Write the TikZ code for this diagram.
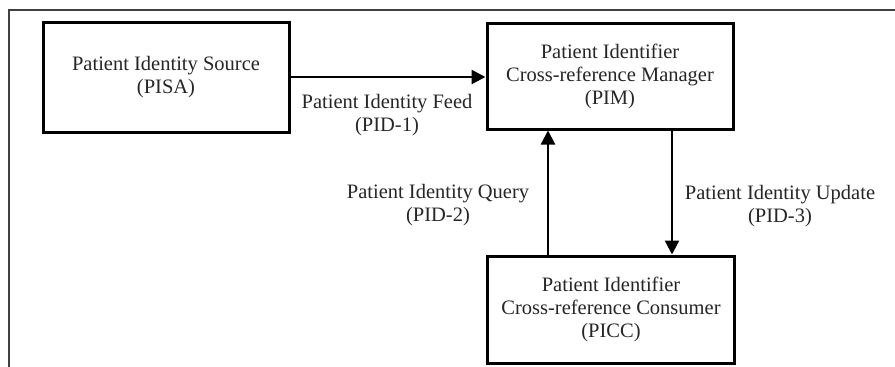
\documentclass[tikz,border=0pt]{standalone}
\usepackage{fontspec}
\setmainfont{Liberation Serif}
\usetikzlibrary{arrows.meta}
\begin{document}
\begin{tikzpicture}[x=1pt,y=-1pt,
  actor/.style={draw=black,line width=3pt,inner sep=0pt},
  lbl/.style={align=center,font=\fontsize{20.5}{23}\selectfont,text=black!85},
  flow/.style={line width=2.4pt,-{Triangle[length=14pt,width=14pt]}}]
  \useasboundingbox (0,0) rectangle (895,367);
  % outer frame
  \draw[line width=1.3pt,black!75] (9,367) -- (9,10) -- (895,10);
  % actors
  \node[actor,minimum width=246pt,minimum height=110pt] (pisa) at (166,77) {};
  \node[lbl] at (pisa.center) {Patient Identity Source\\(PISA)};
  \node[actor,minimum width=246pt,minimum height=106pt] (pim) at (610,76) {};
  \node[lbl] at (pim.center) {Patient Identifier\\Cross-reference Manager\\(PIM)};
  \node[actor,minimum width=247pt,minimum height=107pt] (picc) at (611,309.5) {};
  \node[lbl] at (picc.center) {Patient Identifier\\Cross-reference Consumer\\(PICC)};
  % transactions
  \coordinate (feedS) at (pisa.east |- 0,77);
  \coordinate (feedE) at (pim.west |- 0,77);
  \draw[flow] (feedS) -- (feedE);
  \node[lbl] (feed) at (387,115) {Patient Identity Feed\\(PID-1)};
  \coordinate (qS) at (548,0 |- picc.north);
  \coordinate (qE) at (548,0 |- pim.south);
  \draw[flow] (qS) -- (qE);
  \node[lbl] (query) at (438,205) {Patient Identity Query\\(PID-2)};
  \coordinate (uS) at (672,0 |- pim.south);
  \coordinate (uE) at (672,0 |- picc.north);
  \draw[flow] (uS) -- (uE);
  \node[lbl] (update) at (780,206) {Patient Identity Update\\(PID-3)};
\end{tikzpicture}
\end{document}
